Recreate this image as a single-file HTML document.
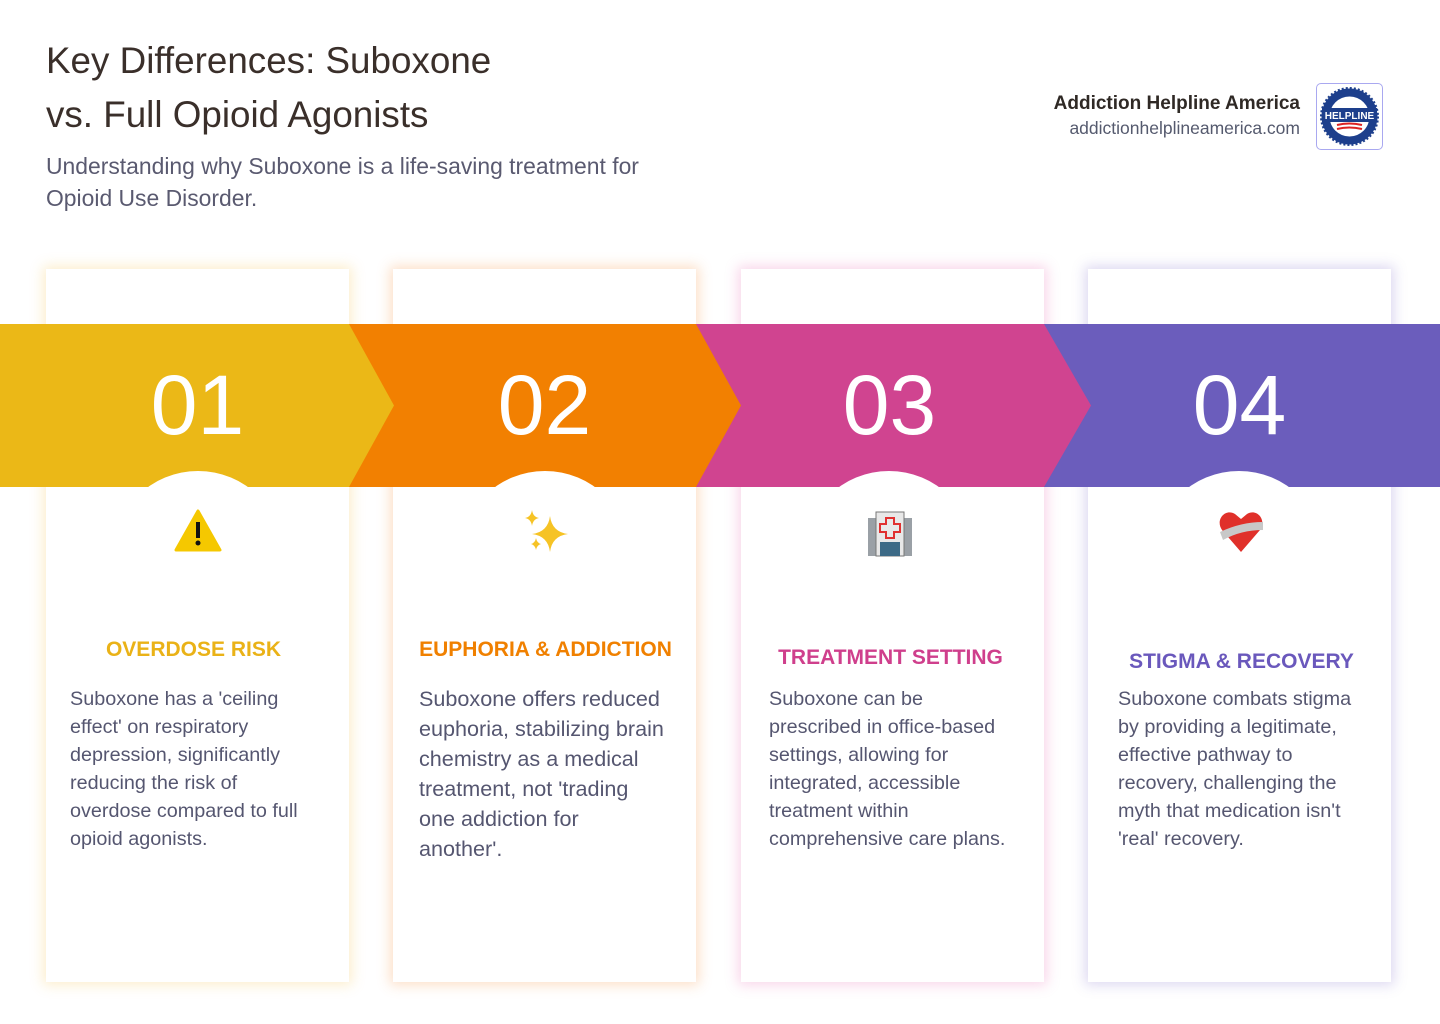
<!DOCTYPE html>
<html><head><meta charset="utf-8"><style>
*{margin:0;padding:0;box-sizing:border-box}
body{width:1440px;height:1024px;background:#fff;position:relative;overflow:hidden;font-family:"Liberation Sans",sans-serif}
.t{position:absolute;left:46px;font-size:36.8px;color:#3a2f2a;line-height:54px;top:34px}
.sub{position:absolute;left:46px;top:150px;font-size:22.9px;line-height:32px;color:#5a5a70;width:720px}
.brand{position:absolute;right:140px;top:90px;text-align:right}
.brand b{display:block;font-size:19px;color:#2f2925;line-height:28px}
.brand span{font-size:17.5px;color:#555a6e}
.logo{position:absolute;left:1316px;top:83px;width:67px;height:67px;border:1px solid #a9a8f0;border-radius:5px;background:#fff}
.card{position:absolute;top:269px;width:303px;height:713px;background:#fff}
.band{position:absolute;top:324px;left:0;width:1440px;height:163px}
.num{position:absolute;top:350px;width:303px;text-align:center;font-size:84px;color:#fff;line-height:110px;font-weight:normal}
.circ{position:absolute;top:471px;width:172px;height:172px;border-radius:50%;background:#fff}
h3{position:absolute;font-size:21px;font-weight:bold;text-align:center;width:303px}
.p{position:absolute;color:#555670;font-size:19.8px;line-height:28px}
.icon{position:absolute;top:508px}
</style></head><body>
<div class="t">Key Differences: Suboxone<br>vs. Full Opioid Agonists</div>
<div class="sub">Understanding why Suboxone is a life-saving treatment for<br>Opioid Use Disorder.</div>
<div class="brand"><b>Addiction Helpline America</b><span>addictionhelplineamerica.com</span></div>
<div class="logo"><svg width="65" height="65" viewBox="0 0 65 65"><circle cx="32.5" cy="32.5" r="28" fill="#1d3f8c" stroke="#1d3f8c" stroke-width="3" stroke-dasharray="2 2"/><circle cx="32.5" cy="32.5" r="20" fill="#fff"/><rect x="5" y="24" width="55" height="14" fill="#1d3f8c"/><text x="32.5" y="35" font-size="10" font-weight="bold" fill="#fff" text-anchor="middle" font-family="Liberation Sans">HELPLINE</text><path d="M20 41 q12 -3 25 0" stroke="#d22" stroke-width="2" fill="none"/><path d="M20 45 q12 -3 25 0" stroke="#d22" stroke-width="2" fill="none"/></svg></div>

<div class="card" style="left:46px;box-shadow:0 0 12px 3px rgba(245,200,90,.3)"></div>
<div class="card" style="left:393px;box-shadow:0 0 12px 3px rgba(245,150,70,.3)"></div>
<div class="card" style="left:741px;box-shadow:0 0 12px 3px rgba(230,90,170,.25)"></div>
<div class="card" style="left:1088px;box-shadow:0 0 12px 3px rgba(120,100,200,.25)"></div>

<svg class="band" viewBox="0 0 1440 163">
<rect x="1044" y="0" width="396" height="163" fill="#6b5dbc"/>
<polygon points="696,0 1044,0 1091,81.5 1044,163 696,163" fill="#d04490"/>
<polygon points="349,0 696,0 741,81.5 696,163 349,163" fill="#f28001"/>
<polygon points="0,0 349,0 394,81.5 349,163 0,163" fill="#ebb817"/>
</svg>
<div class="circ" style="left:112px"></div>
<div class="circ" style="left:459px"></div>
<div class="circ" style="left:803px"></div>
<div class="circ" style="left:1153px"></div>
<div style="position:absolute;top:487px;left:46px;width:303px;height:130px;background:#fff"></div>
<div style="position:absolute;top:487px;left:393px;width:303px;height:130px;background:#fff"></div>
<div style="position:absolute;top:487px;left:741px;width:303px;height:130px;background:#fff"></div>
<div style="position:absolute;top:487px;left:1088px;width:303px;height:130px;background:#fff"></div>

<div class="num" style="left:46px">01</div>
<div class="num" style="left:393px">02</div>
<div class="num" style="left:738px">03</div>
<div class="num" style="left:1088px">04</div>

<svg class="icon" style="left:174px" width="48" height="46" viewBox="0 0 48 46"><polygon points="24,3 46,42 2,42" fill="#f5c800" stroke="#f5c800" stroke-linejoin="round" stroke-width="3"/><rect x="22" y="14" width="4" height="16" fill="#111"/><circle cx="24" cy="35" r="2.5" fill="#111"/></svg>
<svg class="icon" style="left:522px" width="48" height="48" viewBox="0 0 48 48"><path d="M28 8 Q30 24 46 26 Q30 28 28 44 Q26 28 10 26 Q26 24 28 8Z" fill="#f6c325"/><path d="M10 2 Q11 9 17 10 Q11 11 10 18 Q9 11 3 10 Q9 9 10 2Z" fill="#f6c325"/><path d="M14 30 Q15 35 19 36 Q15 37 14 42 Q13 37 9 36 Q13 35 14 30Z" fill="#f6c325"/></svg>
<svg class="icon" style="left:866px" width="48" height="50" viewBox="0 0 48 50"><rect x="2" y="10" width="44" height="38" fill="#9aa0a6"/><rect x="10" y="4" width="28" height="44" fill="#e8e8e8" stroke="#777"/><path d="M20 10h8v6h6v8h-6v6h-8v-6h-6v-8h6z" fill="none" stroke="#e03030" stroke-width="2"/><rect x="14" y="34" width="20" height="14" fill="#3d6a86"/></svg>
<svg class="icon" style="left:1217px" width="48" height="48" viewBox="0 0 48 48"><path d="M24 44 L5 22 C-2 12 8 0 18 6 L24 11 L30 6 C40 0 50 12 43 22Z" fill="#e0302a"/><path d="M3 24 Q24 14 46 14 L46 22 Q24 22 6 32Z" fill="#c8c8c8"/></svg>

<h3 style="left:42px;top:638px;color:#eab217">OVERDOSE RISK</h3>
<div class="p" style="left:70px;top:685px">Suboxone has a 'ceiling<br>effect' on respiratory<br>depression, significantly<br>reducing the risk of<br>overdose compared to full<br>opioid agonists.</div>
<h3 style="left:394px;top:638px;color:#f08000">EUPHORIA &amp; ADDICTION</h3>
<div class="p" style="left:419px;top:684px;font-size:21.6px;line-height:30px">Suboxone offers reduced<br>euphoria, stabilizing brain<br>chemistry as a medical<br>treatment, not 'trading<br>one addiction for<br>another'.</div>
<h3 style="left:739px;top:646px;color:#cf3f8c">TREATMENT SETTING</h3>
<div class="p" style="left:769px;top:685px">Suboxone can be<br>prescribed in office-based<br>settings, allowing for<br>integrated, accessible<br>treatment within<br>comprehensive care plans.</div>
<h3 style="left:1090px;top:650px;color:#6a58bc">STIGMA &amp; RECOVERY</h3>
<div class="p" style="left:1118px;top:685px">Suboxone combats stigma<br>by providing a legitimate,<br>effective pathway to<br>recovery, challenging the<br>myth that medication isn't<br>'real' recovery.</div>
</body></html>
